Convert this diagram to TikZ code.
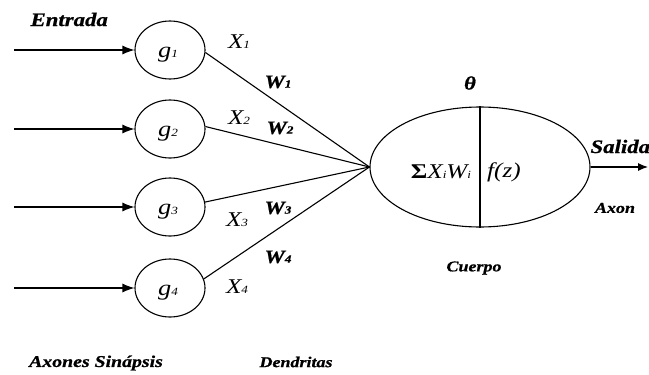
\documentclass[tikz,border=0pt]{standalone}
\usepackage{fontspec}
\setmainfont[FakeStretch=1.2]{Liberation Serif}
\usetikzlibrary{shapes.geometric,arrows.meta}
\newcommand{\heavybi}{\bfseries\itshape\addfontfeature{FakeBold=0.8}}
\begin{document}
\begin{tikzpicture}[x=1pt,y=-1pt,
  line width=1.1pt,
  gnode/.style={draw,ellipse,minimum width=70pt,minimum height=58pt,inner sep=0pt},
  inarrow/.style={-{Latex[length=12pt,width=9pt]}},
  glbl/.style={inner sep=0pt,font=\fontsize{22}{24}\selectfont\itshape},
  lbl/.style={inner sep=0pt,font=\fontsize{21}{23}\selectfont\itshape},
  wlbl/.style={inner sep=0pt,font=\fontsize{19}{21}\selectfont\heavybi},
  title/.style={inner sep=0pt,font=\fontsize{19}{21}\selectfont\heavybi},
  small/.style={inner sep=0pt,font=\fontsize{15}{17}\selectfont\heavybi}
]
\useasboundingbox (0,0) rectangle (649,375);
\newcommand{\sbs}[1]{\raisebox{0.5pt}{\fontsize{11}{12}\selectfont #1}}

% input neurons
\node[gnode] (g1) at (170,50) {};
\node[gnode] (g2) at (170,129) {};
\node[gnode] (g3) at (170,207) {};
\node[gnode] (g4) at (170,288) {};
\node[glbl] (tg1) at (168,55) {g\sbs{1}};
\node[glbl] (tg2) at (168,134) {g\sbs{2}};
\node[glbl] (tg3) at (168,212) {g\sbs{3}};
\node[glbl] (tg4) at (168,293) {g\sbs{4}};

% input arrows
\coordinate (in1) at (14,50);
\coordinate (in2) at (14,129);
\coordinate (in3) at (14,207);
\coordinate (in4) at (14,288);
\draw[inarrow] (in1) -- (g1.west);
\draw[inarrow] (in2) -- (g2.west);
\draw[inarrow] (in3) -- (g3.west);
\draw[inarrow] (in4) -- (g4.west);

% body
\node[draw,ellipse,minimum width=220pt,minimum height=120pt,inner sep=0pt] (body) at (480,167) {};
\draw (body.north) -- (body.south);

% dendrites
\draw (g1.-4) -- (body.west);
\draw (g2.4) -- (body.west);
\draw (g3.8) -- (body.west);
\draw (g4.15) -- (body.west);

% output
\coordinate (out) at (648,167);
\draw[-{Latex[length=10pt,width=8pt]}] (body.east) -- (out);

% labels
\node[lbl] (x1) at (239,42) {X\sbs{1}};
\node[lbl] (x2) at (239,118) {X\sbs{2}};
\node[lbl] (x3) at (237,220) {X\sbs{3}};
\node[lbl] (x4) at (237,287) {X\sbs{4}};
\node[wlbl] (w1) at (278,82) {W\sbs{1}};
\node[wlbl] (w2) at (280,128) {W\sbs{2}};
\node[wlbl] (w3) at (278,208) {W\sbs{3}};
\node[wlbl] (w4) at (278,257) {W\sbs{4}};

\node[title] (theta) at (470,83) {θ};
\node[inner sep=0pt,font=\fontsize{21}{23}\selectfont] (sum) at (441,172) {\textbf{Σ}\textit{X\sbs{i}W\sbs{i}}};
\node[lbl] (fz) at (504,172) {f(z)};

\node[title,anchor=base west] (in) at (30,26) {Entrada};
\node[title,anchor=base west] (sal) at (590,153) {Salida};
\node[small] (axon) at (615,208) {Axon};
\node[small] (cuerpo) at (474,268) {Cuerpo};
\node[small,font=\fontsize{16.5}{18}\selectfont\heavybi] (axs) at (96,363) {Axones Sinápsis};
\node[small] (dend) at (296,362) {Dendritas};
\end{tikzpicture}
\end{document}
